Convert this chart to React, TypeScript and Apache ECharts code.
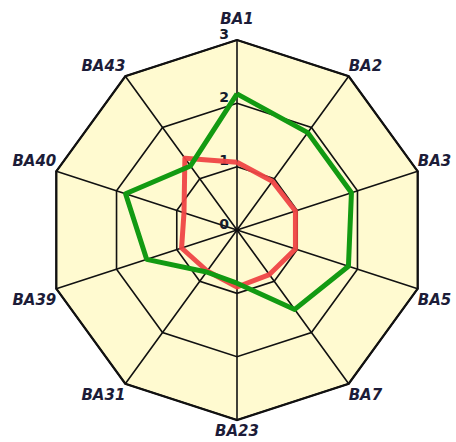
import React, { useEffect, useRef } from "react";
import * as echarts from "echarts";

// Indicators in clockwise order from the top
const categories = ["BA1", "BA2", "BA3", "BA5", "BA7", "BA23", "BA31", "BA39", "BA40", "BA43"];
const greenValues = [2.15, 1.9, 1.9, 1.85, 1.55, 0.84, 0.82, 1.5, 1.85, 1.25];
const redValues = [1.07, 0.95, 0.97, 0.97, 0.87, 0.9, 0.8, 0.92, 0.88, 1.4];
const tickLabels = ["0", "1", "2", "3"];
const maxValue = 3;

// name placement style per indicator
const nameStyle: Record<string, string> = {
  BA1: "top",
  BA2: "up",
  BA3: "up",
  BA5: "down",
  BA7: "down",
  BA23: "bottom",
  BA31: "down",
  BA39: "down",
  BA40: "up",
  BA43: "up",
};

// ECharts places radar indicators counter-clockwise: reorder
const ccw = (arr: any[]) => [arr[0], ...arr.slice(1).reverse()];

export default function App() {
  const ref = useRef<HTMLDivElement>(null);
  useEffect(() => {
    if (!ref.current) return;
    const chart = echarts.init(ref.current, undefined, { renderer: "svg" });
    const names = ccw(categories);
    const nameFont = {
      fontFamily: "DejaVu Sans",
      fontWeight: "bold" as const,
      fontStyle: "italic" as const,
      fontSize: 15,
      color: "#1c1c38",
    };
    const tickFont = {
      fontFamily: "DejaVu Sans",
      fontWeight: "bold" as const,
      fontSize: 14,
      color: "#141c2c",
    };
    chart.setOption({
      animation: false,
      backgroundColor: "#ffffff",
      radar: [
        {
          center: [237, 230],
          radius: 190,
          startAngle: 90,
          shape: "polygon",
          splitNumber: 3,
          axisNameGap: 0,
          indicator: names.map((n, i) => ({
            name: n,
            min: 0,
            max: maxValue,
            ...(i === 0
              ? {
                  axisLabel: {
                    show: true,
                    formatter: (v: number) => `{t|${tickLabels[Math.round(v)] ?? ""}}`,
                  },
                }
              : {}),
          })),
          axisName: {
            ...nameFont,
            formatter: (name: string) => `{${nameStyle[name]}|${name}}`,
            rich: {
              top: { ...nameFont, padding: [0, 0, 14, 0] },
              up: { ...nameFont, padding: [0, 0, 20, 0] },
              down: { ...nameFont, padding: [22, 0, 0, 0] },
              bottom: { ...nameFont, padding: [3, 0, 0, 0] },
            },
          },
          axisLabel: {
            show: false,
            ...tickFont,
            margin: 6,
            rich: {
              t: { ...tickFont, padding: [0, 2, 13, 0] },
            },
          },
          axisLine: { lineStyle: { color: "#111111", width: 1.6 } },
          splitLine: { lineStyle: { color: "#111111", width: 1.6 } },
          splitArea: { areaStyle: { color: ["#fffad0"] } },
        },
        {
          center: [237, 230],
          radius: 190,
          startAngle: 90,
          shape: "polygon",
          splitNumber: 1,
          indicator: names.map(() => ({ name: "", min: 0, max: maxValue })),
          axisName: { show: false },
          axisLine: { show: false },
          axisLabel: { show: false },
          splitArea: { show: false },
          splitLine: { lineStyle: { color: "#111111", width: 2.2 } },
          silent: true,
        },
      ],
      series: [
        {
          type: "radar",
          radarIndex: 0,
          symbol: "none",
          lineStyle: { color: "#ef4444", width: 5, opacity: 0.95 },
          data: [{ value: ccw(redValues), name: "red" }],
          z: 2,
        },
        {
          type: "radar",
          radarIndex: 0,
          symbol: "none",
          lineStyle: { color: "#129a12", width: 5 },
          data: [{ value: ccw(greenValues), name: "green" }],
          z: 3,
        },
      ],
    });
    return () => chart.dispose();
  }, []);
  return (
    <div
      ref={ref}
      style={{ position: "fixed", left: 0, top: 0, width: 456, height: 442 }}
    />
  );
}
